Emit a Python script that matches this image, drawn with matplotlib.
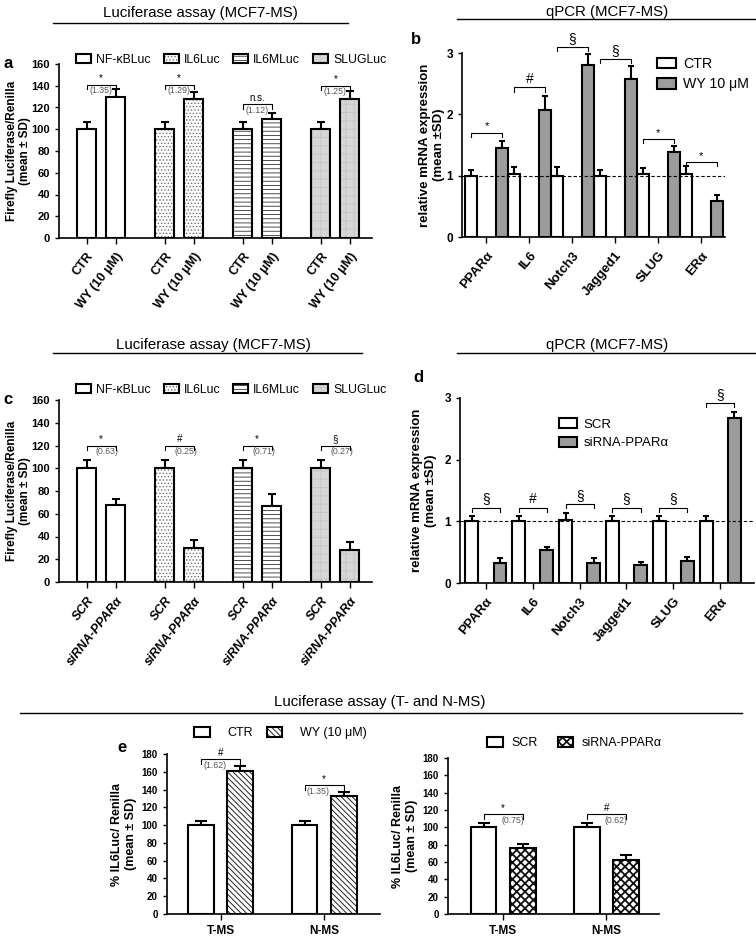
import numpy as np
import matplotlib
matplotlib.use('Agg')
import matplotlib.pyplot as plt
from matplotlib.patches import Patch
from matplotlib.lines import Line2D

plt.rcParams['font.family'] = ['Liberation Sans', 'DejaVu Sans']
plt.rcParams['hatch.linewidth'] = 0.6

W, H = 756, 936

# ---- data ----
reporters = ['NF-κBLuc', 'IL6Luc', 'IL6MLuc', 'SLUGLuc']
a_ctr = [100, 100, 100, 100]
a_ctr_sd = [7, 7, 7, 7]
a_wy = [130, 128, 109, 128]
a_wy_sd = [7, 6, 6, 7]
a_sig = ['*', '*', 'n.s.', '*']
a_ratio = ['(1.35)', '(1.29)', '(1.12)', '(1.25)']
a_bracket = [141, 141, 123, 140]

genes = ['PPARα', 'IL6', 'Notch3', 'Jagged1', 'SLUG', 'ERα']
b_ctr = [1.0, 1.02, 1.0, 1.0, 1.02, 1.02]
b_ctr_sd = [0.09, 0.12, 0.14, 0.09, 0.10, 0.13]
b_wy = [1.45, 2.07, 2.80, 2.57, 1.39, 0.58]
b_wy_sd = [0.12, 0.23, 0.18, 0.22, 0.09, 0.10]
b_sig = ['*', '#', '§', '§', '*', '*']
b_bracket = [1.70, 2.44, 3.10, 2.90, 1.60, 1.22]

c_scr = [100, 100, 100, 100]
c_scr_sd = [7, 7, 7, 7]
c_si = [68, 30, 67, 28]
c_si_sd = [5, 7, 10, 7]
c_sig = ['*', '#', '*', '§']
c_ratio = ['(0.63)', '(0.25)', '(0.71)', '(0.27)']
c_bracket = [120, 120, 120, 120]

d_scr = [1.0, 1.0, 1.02, 1.0, 1.0, 1.0]
d_scr_sd = [0.09, 0.09, 0.12, 0.09, 0.09, 0.09]
d_si = [0.32, 0.53, 0.33, 0.29, 0.36, 2.68]
d_si_sd = [0.08, 0.06, 0.07, 0.05, 0.06, 0.10]
d_sig = ['§', '#', '§', '§', '§', '§']
d_bracket = [1.22, 1.22, 1.28, 1.22, 1.22, 2.92]

cells = ['T-MS', 'N-MS']
e_ctr = [100, 100]
e_ctr_sd = [5, 5]
e_wy = [161, 133]
e_wy_sd = [5, 4]
e_wy_sig = ['#', '*']
e_wy_ratio = ['(1.62)', '(1.35)']
e_wy_bracket = [174, 145]
e_scr = [100, 100]
e_scr_sd = [5, 5]
e_si = [76, 62]
e_si_sd = [5, 6]
e_si_sig = ['*', '#']
e_si_ratio = ['(0.75)', '(0.62)']
e_si_bracket = [115, 115]

# ---- styles ----
WHITE = dict(fc='white', hatch=None, hc='k')
DOTS = dict(fc='white', hatch='.....', hc='#6f6f6f')
HLINES = dict(fc='white', hatch='----', hc='#333333')
LGREY = dict(fc='#d6d6d6', hatch='++', hc='#c4c4c4')
MGREY = dict(fc='#9c9c9c', hatch=None, hc='k')
DIAG = dict(fc='white', hatch='\\\\\\\\\\\\', hc='#222222')
CHECK = dict(fc='white', hatch='xxxx', hc='#111111')
luc_styles = [WHITE, DOTS, HLINES, LGREY]


def box(x0, y0, x1, y1):
    return [x0 / W, 1 - y1 / H, (x1 - x0) / W, (y1 - y0) / H]


def fx(x):
    return x / W


def fy(y):
    return 1 - y / H


def sbar(ax, x, h, w, st):
    if st['hatch']:
        ax.bar(x, h, w, color=st['fc'], edgecolor=st['hc'], linewidth=0,
               hatch=st['hatch'], zorder=2)
    else:
        ax.bar(x, h, w, color=st['fc'], linewidth=0, zorder=2)
    ax.bar(x, h, w, fill=False, edgecolor='k', linewidth=1.5, zorder=3)


def ebar(ax, x, h, sd, cap=3):
    ax.errorbar(x, h, yerr=[np.zeros(len(h)), sd], fmt='none', ecolor='k',
                elinewidth=1.5, capsize=cap, capthick=1.5, zorder=1)


def handle(st):
    p1 = Patch(facecolor=st['fc'], edgecolor=st['hc'], hatch=st['hatch'], linewidth=0)
    p2 = Patch(fill=False, edgecolor='k', linewidth=1.5)
    return (p1, p2)


def bracket(ax, x1, x2, y, d, lab, fs=7):
    ax.plot([x1, x1, x2, x2], [y - d, y, y, y - d], color='k', lw=0.8,
            clip_on=False, zorder=4)
    ax.text((x1 + x2) / 2, y + d * 0.3, lab, ha='center', va='bottom',
            fontsize=fs, clip_on=False)


def style_axis(ax):
    for s in ['top', 'right']:
        ax.spines[s].set_visible(False)
    for s in ['left', 'bottom']:
        ax.spines[s].set_linewidth(1.2)
    ax.tick_params(direction='out', length=3, width=1)


def section(text, xc, yt, x0, x1, yl):
    fig.text(fx(xc), fy(yt), text, ha='center', va='center', fontsize=10.8)
    fig.add_artist(Line2D([fx(x0), fx(x1)], [fy(yl), fy(yl)], color='k', lw=1))


fig = plt.figure(figsize=(W / 100, H / 100), dpi=100)

section('Luciferase assay (MCF7-MS)', 200, 13, 53, 348, 23)
section('qPCR (MCF7-MS)', 607, 12, 457, 755, 19)
section('Luciferase assay (MCF7-MS)', 213, 345, 53, 362, 353)
section('qPCR (MCF7-MS)', 607, 345, 457, 755, 353)
section('Luciferase assay (T- and N-MS)', 380, 702, 20, 742, 713)


# ---- panels a and c ----
def luc_panel(rect, v1, s1, v2, s2, sig, ratio, brk, xlabs, italic, ratio_dx, leg_y, letter, ly):
    ax = fig.add_axes(rect)
    style_axis(ax)
    pos = np.arange(4)
    off, w = 0.186, 0.245
    for i in range(4):
        sbar(ax, [pos[i] - off], [v1[i]], w, luc_styles[i])
        sbar(ax, [pos[i] + off], [v2[i]], w, luc_styles[i])
    ebar(ax, pos - off, v1, s1)
    ebar(ax, pos + off, v2, s2)
    for i in range(4):
        bracket(ax, pos[i] - off, pos[i] + off, brk[i], 4, sig[i], fs=7)
        ax.text(pos[i] + ratio_dx, brk[i] - 1.2, ratio[i], ha='center', va='top',
                fontsize=6.3, color='#555555')
    ax.set_xlim(-0.54, 3.47)
    ax.set_ylim(0, 160)
    ax.set_yticks(np.arange(0, 161, 20))
    ax.set_yticklabels([str(t) for t in range(0, 161, 20)], fontweight='bold', fontsize=8)
    ticks = np.ravel(np.column_stack([pos - off, pos + off]))
    ax.set_xticks(ticks)
    ax.set_xticklabels(xlabs * 4, rotation=52, ha='right', rotation_mode='anchor',
                       fontweight='bold', fontsize=9, style='italic' if italic else 'normal')
    ax.tick_params(axis='x', length=4, pad=5)
    ax.set_ylabel('Firefly Luciferase/Renilla\n(mean ± SD)', fontweight='bold', fontsize=8.5)
    ax.yaxis.set_label_coords(-0.088, 0.5)
    fig.legend([handle(s) for s in luc_styles], reporters, loc='center left',
               bbox_to_anchor=(fx(76), fy(leg_y)), ncol=4, frameon=False, fontsize=8.8,
               handlelength=1.25, handleheight=0.75, handletextpad=0.4, columnspacing=1.05,
               borderpad=0, borderaxespad=0)
    fig.text(fx(3), fy(ly), letter, fontsize=12, fontweight='bold', va='center')
    return ax


luc_panel(box(59, 64, 372, 238), a_ctr, a_ctr_sd, a_wy, a_wy_sd, a_sig, a_ratio, a_bracket,
          ['CTR', 'WY (10 μM)'], False, 0.0, 60, 'a', 63)
luc_panel(box(59, 400, 372, 582), c_scr, c_scr_sd, c_si, c_si_sd, c_sig, c_ratio, c_bracket,
          ['SCR', 'siRNA-PPARα'], True, 0.08, 390, 'c', 399)


# ---- panels b and d ----
def qpcr_panel(rect, v1, s1, v2, s2, sig, brk, off, w, xl, leg_labels, leg_xy, leg_fs,
               yl_x, letter, lxy):
    ax = fig.add_axes(rect)
    style_axis(ax)
    pos = np.arange(6)
    sbar(ax, pos - off, v1, w, WHITE)
    sbar(ax, pos + off, v2, w, MGREY)
    ebar(ax, pos - off, v1, s1, cap=2.5)
    ebar(ax, pos + off, v2, s2, cap=2.5)
    for i in range(6):
        bracket(ax, pos[i] - off, pos[i] + off, brk[i], 0.07, sig[i],
                fs=10 if sig[i] != '*' else 8)
    ax.axhline(1, ls='--', lw=0.8, color='k', zorder=5, dashes=(3, 2))
    ax.set_xlim(*xl)
    ax.set_ylim(0, 3)
    ax.set_yticks([0, 1, 2, 3])
    ax.set_yticklabels(['0', '1', '2', '3'], fontweight='bold', fontsize=8.5)
    ax.set_xticks(pos)
    ax.set_xticklabels(genes, rotation=50, ha='right', rotation_mode='anchor',
                       fontweight='bold', fontsize=9.5)
    ax.tick_params(axis='x', length=4, pad=5)
    ax.set_ylabel('relative mRNA expression\n(mean ±SD)', fontweight='bold', fontsize=9.5)
    ax.yaxis.set_label_coords(yl_x, 0.5)
    fig.legend([handle(WHITE), handle(MGREY)], leg_labels, loc='upper left',
               bbox_to_anchor=(fx(leg_xy[0]), fy(leg_xy[1])), ncol=1, frameon=False,
               fontsize=leg_fs, handlelength=1.35, handleheight=0.8, handletextpad=0.5,
               labelspacing=0.45, borderpad=0, borderaxespad=0)
    fig.text(fx(lxy[0]), fy(lxy[1]), letter, fontsize=12, fontweight='bold', va='center')
    return ax


qpcr_panel(box(462, 53, 725, 237), b_ctr, b_ctr_sd, b_wy, b_wy_sd, b_sig, b_bracket,
           0.36, 0.29, (-0.57, 5.55), ['CTR', 'WY 10 μM'], (657, 57), 10.2, -0.065, 'b', (411, 40))
qpcr_panel(box(460, 398, 754, 583), d_scr, d_scr_sd, d_si, d_si_sd, d_sig, d_bracket,
           0.30, 0.27, (-0.55, 5.72), ['SCR', 'siRNA-PPARα'], (559, 418), 9.5, -0.078, 'd', (413, 378))


# ---- panel e ----
def e_panel(rect, v1, s1, v2, s2, st2, sig, ratio, brk, ratio_dx, xl, labels, leg_x, leg_y,
            yl_x, tpad, cspace):
    ax = fig.add_axes(rect)
    style_axis(ax)
    pos = np.arange(2)
    off, w = 0.19, 0.25
    sbar(ax, pos - off, v1, w, WHITE)
    sbar(ax, pos + off, v2, w, st2)
    ebar(ax, pos - off, v1, s1, cap=4)
    ebar(ax, pos + off, v2, s2, cap=4)
    for i in range(2):
        bracket(ax, pos[i] - off, pos[i] + off, brk[i], 5, sig[i], fs=7)
        ax.text(pos[i] + ratio_dx, brk[i] - 2, ratio[i], ha='center', va='top',
                fontsize=6.3, color='#555555')
    ax.set_xlim(*xl)
    ax.set_ylim(0, 180)
    ax.set_yticks(np.arange(0, 181, 20))
    ax.set_yticklabels([str(t) for t in range(0, 181, 20)], fontweight='bold', fontsize=7)
    ax.set_xticks(pos)
    ax.set_xticklabels(cells, fontweight='bold', fontsize=8.5)
    ax.tick_params(axis='x', length=4, pad=4)
    ax.set_ylabel('% IL6Luc/ Renilla\n(mean ± SD)', fontweight='bold', fontsize=9)
    ax.yaxis.set_label_coords(yl_x, 0.5)
    fig.legend([handle(WHITE), handle(st2)], labels, loc='center left',
               bbox_to_anchor=(fx(leg_x), fy(leg_y)), ncol=2, frameon=False, fontsize=9,
               handlelength=1.25, handleheight=0.8, handletextpad=tpad, columnspacing=cspace,
               borderpad=0, borderaxespad=0)
    return ax


with plt.rc_context({'hatch.linewidth': 0.7}):
    e_panel(box(167, 754, 380, 914), e_ctr, e_ctr_sd, e_wy, e_wy_sd, DIAG, e_wy_sig, e_wy_ratio,
            e_wy_bracket, -0.06, (-0.52, 1.54), ['CTR', 'WY (10 μM)'], 194, 733, -0.14, 1.4, 1.1)
with plt.rc_context({'hatch.linewidth': 1.3}):
    e_panel(box(448, 758, 659, 914), e_scr, e_scr_sd, e_si, e_si_sd, CHECK, e_si_sig, e_si_ratio,
            e_si_bracket, 0.09, (-0.535, 1.51), ['SCR', 'siRNA-PPARα'], 487, 743, -0.142, 0.7, 1.6)
fig.text(fx(117), fy(747), 'e', fontsize=12, fontweight='bold', va='center')

fig.savefig('out.png', dpi=100)
